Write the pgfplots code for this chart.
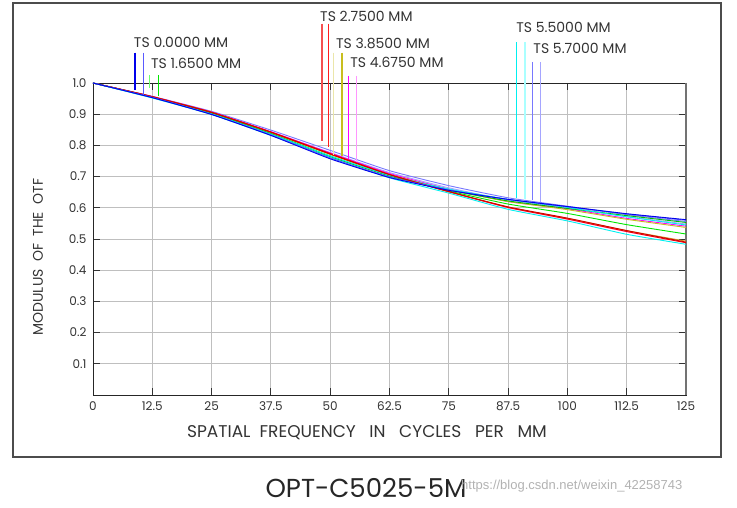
\documentclass[border=0pt]{standalone}
\usepackage{fontspec}
\setmainfont{Poppins}
\newfontfamily\wmfont{Liberation Sans}
\usepackage{pgfplots}
\pgfplotsset{compat=1.18}
\definecolor{cBlue}{RGB}{0,0,235}
\definecolor{cBlueL}{RGB}{90,90,255}
\definecolor{cGreen}{RGB}{0,230,0}
\definecolor{cGreenD}{RGB}{0,190,0}
\definecolor{cGreenL}{RGB}{110,255,110}
\definecolor{cRed}{RGB}{240,0,0}
\definecolor{cRedM}{RGB}{255,30,30}
\definecolor{cRedD}{RGB}{210,0,0}
\definecolor{cRedL}{RGB}{245,80,80}
\definecolor{cOlive}{RGB}{200,190,30}
\definecolor{cOrange}{RGB}{210,150,40}
\definecolor{cOliveL}{RGB}{235,230,170}
\definecolor{cMag}{RGB}{255,0,255}
\definecolor{cMagL}{RGB}{255,150,255}
\definecolor{cCyan}{RGB}{0,240,240}
\definecolor{cCyanL}{RGB}{170,255,255}
\definecolor{cVio}{RGB}{120,120,255}
\definecolor{cVioL}{RGB}{165,165,255}
\begin{document}
\begin{tikzpicture}[x=1pt,y=1pt]
\useasboundingbox (0,0) rectangle (737,508);
\draw[line width=1.4pt, black!70] (13,51) rectangle (721,505);
\begin{axis}[
  at={(93pt,113pt)}, anchor=south west,
  scale only axis, width=593pt, height=312pt,
  xmin=0, xmax=125, ymin=0, ymax=1,
  clip=false,
  /pgf/number format/assume math mode=true,
  xtick={0,12.5,25,37.5,50,62.5,75,87.5,100,112.5,125},
  xticklabels={0,12.5,25,37.5,50,62.5,75,87.5,100,112.5,125},
  ytick={0.1,0.2,0.3,0.4,0.5,0.6,0.7,0.8,0.9,1.0},
  yticklabels={0.1,0.2,0.3,0.4,0.5,0.6,0.7,0.8,0.9,1.0},
  tick label style={font=\fontsize{12}{12}\selectfont, black!80},
  xticklabel style={yshift=-3pt},
  yticklabel style={xshift=-3pt},
  grid=major,
  grid style={black!25, line width=0.9pt},
  tick align=inside,
  major tick length=7pt,
  tick style={black!80, line width=0.9pt},
  axis line style={black!85, line width=0.8pt},
  xlabel={SPATIAL\ \ FREQUENCY\ \ \ IN\ \ \ CYCLES\ \ \ PER\ \ \ MM},
  xlabel style={at={(axis description cs:0.462,-0.122)}, anchor=center, font=\fontsize{17}{17}\selectfont, black!80},
  ylabel={MODULUS\ \ OF\ \ THE\ \ OTF},
  ylabel style={at={(axis description cs:-0.0927,0.442)}, anchor=center, rotate=0, font=\fontsize{14}{14}\selectfont, black!80},
  every axis plot/.append style={line width=0.9pt, line join=round},
]
% right spine darker
\draw[black!55, line width=2.5pt] (rel axis cs:1,0) -- (rel axis cs:1,1);
% MTF curves (T and S for each field)
\addplot[draw=cVio, smooth, tension=0.3] coordinates {(0,1)(12.5,0.957)(25,0.909)(37.5,0.849)(50,0.784)(62.5,0.719)(75,0.671)(87.5,0.632)(100,0.605)(112.5,0.578)(125,0.556)};
\addplot[draw=cVioL, smooth, tension=0.3] coordinates {(0,1)(12.5,0.955)(25,0.905)(37.5,0.843)(50,0.777)(62.5,0.713)(75,0.664)(87.5,0.625)(100,0.600)(112.5,0.572)(125,0.548)};
\addplot[draw=cMagL, smooth, tension=0.3] coordinates {(0,1)(12.5,0.956)(25,0.906)(37.5,0.843)(50,0.774)(62.5,0.707)(75,0.651)(87.5,0.600)(100,0.563)(112.5,0.523)(125,0.489)};
\addplot[draw=cMag, smooth, tension=0.3] coordinates {(0,1)(12.5,0.957)(25,0.907)(37.5,0.844)(50,0.776)(62.5,0.710)(75,0.660)(87.5,0.620)(100,0.597)(112.5,0.566)(125,0.541)};
\addplot[draw=cOlive, smooth, tension=0.3] coordinates {(0,1)(12.5,0.956)(25,0.905)(37.5,0.841)(50,0.771)(62.5,0.707)(75,0.658)(87.5,0.620)(100,0.594)(112.5,0.563)(125,0.537)};
\addplot[draw=cOrange, smooth, tension=0.3] coordinates {(0,1)(12.5,0.956)(25,0.906)(37.5,0.842)(50,0.773)(62.5,0.706)(75,0.651)(87.5,0.602)(100,0.566)(112.5,0.527)(125,0.493)};
\addplot[draw=cGreen, smooth, tension=0.3] coordinates {(0,1)(12.5,0.955)(25,0.903)(37.5,0.838)(50,0.766)(62.5,0.703)(75,0.654)(87.5,0.612)(100,0.582)(112.5,0.546)(125,0.516)};
\addplot[draw=cGreenD, smooth, tension=0.3] coordinates {(0,1)(12.5,0.955)(25,0.903)(37.5,0.837)(50,0.764)(62.5,0.702)(75,0.657)(87.5,0.622)(100,0.598)(112.5,0.575)(125,0.553)};
\addplot[draw=cCyan, smooth, tension=0.3] coordinates {(0,1)(12.5,0.953)(25,0.901)(37.5,0.836)(50,0.766)(62.5,0.704)(75,0.660)(87.5,0.627)(100,0.601)(112.5,0.571)(125,0.545)};
\addplot[draw=cRed, smooth, tension=0.3] coordinates {(0,1)(12.5,0.956)(25,0.906)(37.5,0.843)(50,0.774)(62.5,0.707)(75,0.652)(87.5,0.601)(100,0.564)(112.5,0.524)(125,0.488)};
\addplot[draw=cRedD, smooth, tension=0.3] coordinates {(0,1)(12.5,0.956)(25,0.906)(37.5,0.842)(50,0.772)(62.5,0.706)(75,0.652)(87.5,0.603)(100,0.567)(112.5,0.527)(125,0.490)};
\addplot[draw=cCyan, smooth, tension=0.3] coordinates {(0,1)(12.5,0.952)(25,0.899)(37.5,0.832)(50,0.761)(62.5,0.696)(75,0.647)(87.5,0.595)(100,0.558)(112.5,0.515)(125,0.483)};
\addplot[draw=cBlueL, smooth, tension=0.3] coordinates {(0,1)(12.5,0.954)(25,0.900)(37.5,0.834)(50,0.760)(62.5,0.699)(75,0.657)(87.5,0.627)(100,0.603)(112.5,0.580)(125,0.560)};
\addplot[draw=cBlue, smooth, tension=0.3] coordinates {(0,1)(12.5,0.953)(25,0.899)(37.5,0.832)(50,0.757)(62.5,0.697)(75,0.656)(87.5,0.627)(100,0.604)(112.5,0.581)(125,0.562)};
% field marker lines
\addplot[draw=cBlue, line width=1.2pt] coordinates {(8.85,1.097)(8.85,0.977)};
\addplot[draw=cBlueL, line width=1.4pt] coordinates {(10.7,1.097)(10.7,0.961)};
\addplot[draw=cGreenL, line width=1.2pt] coordinates {(11.87,1.026)(11.87,0.985)};
\addplot[draw=cGreen, line width=1.2pt] coordinates {(13.77,1.026)(13.77,0.958)};
\addplot[draw=cRedL, line width=1.2pt] coordinates {(48.27,1.19)(48.27,0.815)};
\addplot[draw=cRedM, line width=1.4pt] coordinates {(49.7,1.19)(49.7,0.795)};
\addplot[draw=cOliveL, line width=1.2pt] coordinates {(50.66,1.097)(50.66,0.768)};
\addplot[draw=cOlive, line width=1.2pt] coordinates {(52.49,1.097)(52.49,0.766)};
\addplot[draw=cMag, line width=1.2pt] coordinates {(53.8,1.023)(53.8,0.755)};
\addplot[draw=cMagL, line width=1.2pt] coordinates {(55.5,1.023)(55.5,0.748)};
\addplot[draw=cCyan, line width=1.2pt] coordinates {(89.3,1.13)(89.3,0.632)};
\addplot[draw=cCyanL, line width=1.2pt] coordinates {(91.06,1.13)(91.06,0.627)};
\addplot[draw=cVio, line width=1.2pt] coordinates {(92.6,1.068)(92.6,0.626)};
\addplot[draw=cVioL, line width=1.2pt] coordinates {(94.37,1.068)(94.37,0.62)};
% field labels
\begin{scope}[every node/.style={anchor=west, inner sep=0pt, font=\fontsize{14}{14}\selectfont, black!80}]
\node at (axis cs:8.6,1.13) {TS 0.0000 MM};
\node at (axis cs:12.2,1.062) {TS 1.6500 MM};
\node at (axis cs:47.85,1.214) {TS 2.7500 MM};
\node at (axis cs:51.2,1.127) {TS 3.8500 MM};
\node at (axis cs:54.2,1.065) {TS 4.6750 MM};
\node at (axis cs:89.2,1.179) {TS 5.5000 MM};
\node at (axis cs:92.8,1.11) {TS 5.7000 MM};
\end{scope}
\end{axis}
\node[font=\fontsize{26}{26}\selectfont, black!85, inner sep=0pt] at (366,20) {OPT-C5025-5M};
\node[font=\wmfont\fontsize{13}{13}\selectfont, black!30, anchor=west, inner sep=0pt] at (461,22) {https://blog.csdn.net/weixin\_42258743};
\end{tikzpicture}
\end{document}
